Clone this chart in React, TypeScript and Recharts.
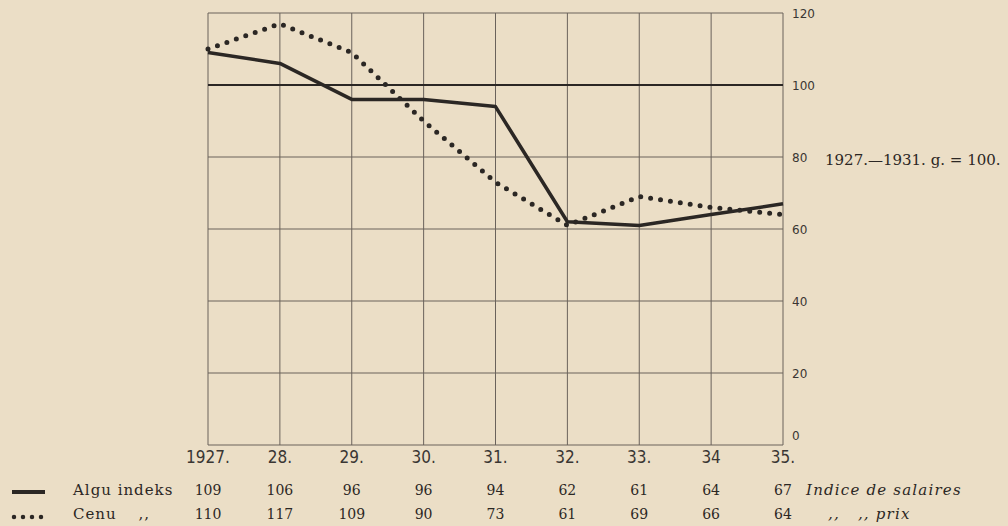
import React from "react";
import { CartesianGrid, Line, LineChart, ReferenceLine, XAxis, YAxis } from "recharts";

const years = [1927, 1928, 1929, 1930, 1931, 1932, 1933, 1934, 1935];
const yearLabels = ["1927.", "28.", "29.", "30.", "31.", "32.", "33.", "34", "35."];
const wages = [109, 106, 96, 96, 94, 62, 61, 64, 67];
const prices = [110, 117, 109, 90, 73, 61, 69, 66, 64];
const yTicks = [0, 20, 40, 60, 80, 100, 120];

const data = years.map((year, i) => ({ year, wages: wages[i], prices: prices[i] }));

const ink = "#2b2724";
const paper = "#ebdec6";
const serif = "'DejaVu Serif', 'Liberation Serif', serif";
const sans = "'DejaVu Sans', sans-serif";

function YearTick(props: any) {
  const { x, y, payload } = props;
  const i = years.indexOf(payload.value);
  return (
    <g>
      <text x={x} y={y + 10} textAnchor="middle" fontFamily={sans} fontSize={17} fill="#3a3633" style={{ fontStretch: "condensed" }}>
        {yearLabels[i]}
      </text>
      <text x={x} y={y + 42} textAnchor="middle" fontFamily={serif} fontSize={14} fill={ink}>
        {wages[i]}
      </text>
      <text x={x} y={y + 66} textAnchor="middle" fontFamily={serif} fontSize={14} fill={ink}>
        {prices[i]}
      </text>
    </g>
  );
}

function ValueTick(props: any) {
  const { x, y, payload } = props;
  const dy = payload.value === 0 ? -5 : 5;
  return (
    <text x={x + 1} y={y + dy} textAnchor="start" fontFamily={sans} fontSize={12} fill="#3a3633">
      {payload.value}
    </text>
  );
}

export default function App() {
  return (
    <div style={{ position: "absolute", left: 0, top: 0, width: 1008, height: 526, background: paper, overflow: "hidden" }}>
      <LineChart width={1008} height={526} data={data} margin={{ left: 208, right: 0, top: 13, bottom: 0 }}>
        <CartesianGrid stroke="#6a625b" strokeWidth={1} horizontalValues={yTicks} verticalValues={years} />
        <XAxis
          dataKey="year"
          type="number"
          domain={[1927, 1935]}
          ticks={years}
          height={81}
          axisLine={false}
          tickLine={false}
          tick={<YearTick />}
          interval={0}
        />
        <YAxis
          orientation="right"
          domain={[0, 120]}
          ticks={yTicks}
          width={225}
          axisLine={false}
          tickLine={false}
          tick={<ValueTick />}
          interval={0}
        />
        <ReferenceLine y={100} stroke={ink} strokeWidth={2} />
        <Line
          dataKey="prices"
          stroke={ink}
          strokeWidth={5}
          strokeDasharray="0 10"
          strokeLinecap="round"
          dot={false}
          isAnimationActive={false}
        />
        <Line dataKey="wages" stroke={ink} strokeWidth={3.5} strokeLinejoin="round" dot={false} isAnimationActive={false} />
      </LineChart>

      <div style={{ position: "absolute", left: 825, top: 151, fontFamily: serif, fontSize: 15, color: ink, whiteSpace: "nowrap" }}>
        1927.—1931. g. = 100.
      </div>

      <svg style={{ position: "absolute", left: 0, top: 480 }} width={60} height={46}>
        <line x1={12} x2={45} y1={12} y2={12} stroke={ink} strokeWidth={4} />
        <line x1={14} x2={44} y1={37} y2={37} stroke={ink} strokeWidth={4.5} strokeDasharray="0 9" strokeLinecap="round" />
      </svg>
      <div style={{ position: "absolute", left: 73, top: 481, fontFamily: serif, fontSize: 15, color: ink, whiteSpace: "nowrap", letterSpacing: 1 }}>
        Algu indeks
      </div>
      <div style={{ position: "absolute", left: 73, top: 505, fontFamily: serif, fontSize: 15, color: ink, whiteSpace: "nowrap", letterSpacing: 1 }}>
        Cenu <span style={{ marginLeft: 16 }}>,,</span>
      </div>
      <div style={{ position: "absolute", left: 806, top: 481, fontFamily: serif, fontSize: 15, fontStyle: "italic", color: ink, whiteSpace: "nowrap", letterSpacing: 1.2 }}>
        Indice de salaires
      </div>
      <div style={{ position: "absolute", left: 828, top: 505, fontFamily: serif, fontSize: 15, fontStyle: "italic", color: ink, whiteSpace: "nowrap", letterSpacing: 1.2 }}>
        ,, <span style={{ marginLeft: 12 }}>,, prix</span>
      </div>
    </div>
  );
}
